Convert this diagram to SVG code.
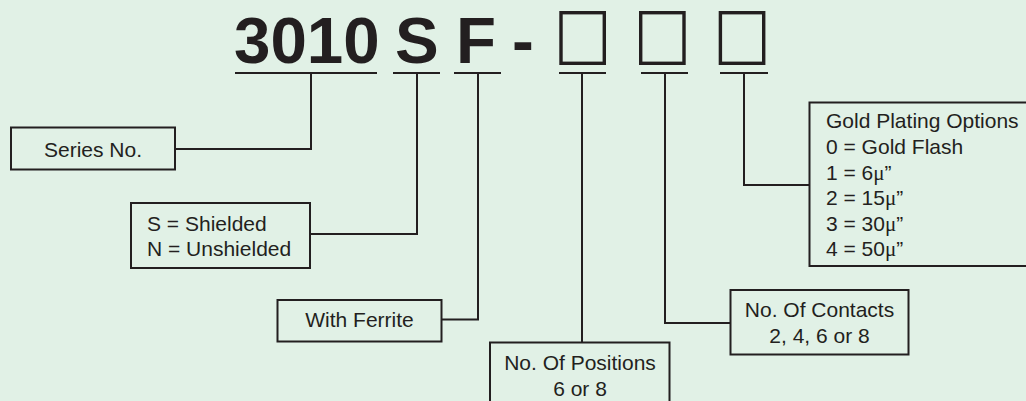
<svg xmlns="http://www.w3.org/2000/svg" width="1026" height="401" viewBox="0 0 1026 401">
<style>
.t{font-family:"Liberation Sans",Arial,sans-serif;font-size:21px;fill:#231f20}
.c{text-anchor:middle}
.mu{font-family:"Liberation Serif","Times New Roman",serif}
.h{font-family:"Liberation Sans",Arial,sans-serif;font-size:65.5px;font-weight:bold;fill:#231f20}
.box{fill:none;stroke:#231f20;stroke-width:2}
.sq{fill:none;stroke:#231f20;stroke-width:3.4}
.ln{fill:none;stroke:#231f20;stroke-width:2}
</style>
<rect width="1026" height="401" fill="#e1f1e6"/>
<g id="title">
<text class="h" x="234" y="63">3010</text>
<text class="h" x="395" y="63">S</text>
<text class="h" x="456" y="63">F</text>
<text class="h" x="512" y="63">-</text>
<rect class="sq" x="561" y="12.7" width="43.3" height="50.6"/>
<rect class="sq" x="640.7" y="12.7" width="43.3" height="50.6"/>
<rect class="sq" x="720.4" y="12.7" width="43.3" height="50.6"/>
</g>
<g id="connectors">
<path class="ln" d="M235 73H377M393 73H440M454 73H501M559 73H606M641 73H688M720 73H768"/>
<path class="ln" d="M175 149H311V73"/>
<path class="ln" d="M310 234H417V73"/>
<path class="ln" d="M441.5 319.5H478V73"/>
<path class="ln" d="M582 342V73"/>
<path class="ln" d="M730 323H665V73"/>
<path class="ln" d="M809 185H744V73"/>
</g>
<g id="series">
<rect class="box" x="11" y="127.5" width="164" height="42"/>
<text class="t c" x="93" y="157">Series No.</text>
</g>
<g id="shield">
<rect class="box" x="131" y="203" width="179" height="65"/>
<text class="t" x="147" y="231">S = Shielded</text>
<text class="t" x="147" y="256">N = Unshielded</text>
</g>
<g id="ferrite">
<rect class="box" x="277.5" y="300" width="164" height="41.5"/>
<text class="t c" x="359.5" y="327">With Ferrite</text>
</g>
<g id="positions">
<rect class="box" x="490" y="342.5" width="179.5" height="70"/>
<text class="t c" x="580" y="370">No. Of Positions</text>
<text class="t c" x="580" y="396">6 or 8</text>
</g>
<g id="contacts">
<rect class="box" x="730.5" y="290" width="178" height="64.5"/>
<text class="t c" x="819.5" y="317">No. Of Contacts</text>
<text class="t c" x="819.5" y="343">2, 4, 6 or 8</text>
</g>
<g id="gold">
<rect class="box" x="809.5" y="102.5" width="230" height="163.5"/>
<text class="t" x="826" y="127.5">Gold Plating Options</text>
<text class="t" x="826" y="153.5">0 = Gold Flash</text>
<text class="t" x="826" y="179.5">1 = 6<tspan class="mu">μ</tspan>”</text>
<text class="t" x="826" y="205">2 = 15<tspan class="mu">μ</tspan>”</text>
<text class="t" x="826" y="231">3 = 30<tspan class="mu">μ</tspan>”</text>
<text class="t" x="826" y="256">4 = 50<tspan class="mu">μ</tspan>”</text>
</g>
</svg>
